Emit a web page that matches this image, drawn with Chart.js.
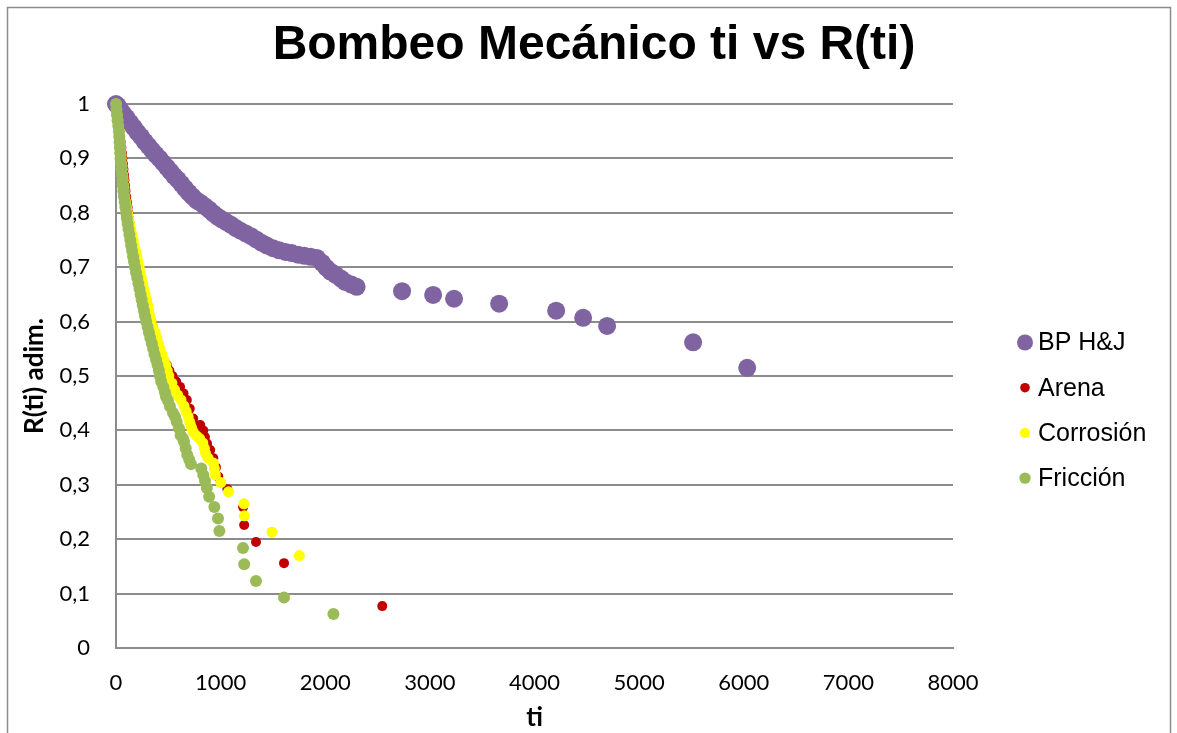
<!DOCTYPE html>
<html lang="es">
<head>
<meta charset="utf-8">
<title>Bombeo Mecánico ti vs R(ti)</title>
<script src="https://cdn.jsdelivr.net/npm/chart.js@4.4.1/dist/chart.umd.min.js"></script>
<style>
    html, body { margin: 0; padding: 0; background: #fff; }
    #chart { display: block; }
</style>
</head>
<body>
<canvas id="chart" width="1177" height="733"></canvas>
<script>
// Series: tiempo (ti) y confiabilidad R(ti)
const seriesNames = ['BP H&J', 'Arena', 'Corrosión', 'Fricción'];

const bpTi = [0, 15, 40, 70, 100, 135, 170, 205, 240, 275, 310, 345, 380, 415, 450, 485, 520, 555, 590, 625,
    660, 695, 730, 770, 810, 850, 890, 930, 970, 1010, 1055, 1100, 1145, 1190, 1240, 1290, 1340, 1390, 1440, 1500,
    1560, 1620, 1680, 1740, 1800, 1860, 1920, 1970, 2010, 2050, 2100, 2150, 2190, 2250, 2300,
    2734, 3031, 3231, 3662, 4207, 4465, 4694, 5516, 6033];
const bpR = [1, 0.997, 0.99, 0.982, 0.975, 0.966, 0.957, 0.948, 0.94, 0.931, 0.923, 0.915, 0.907, 0.9, 0.892, 0.884, 0.876, 0.868, 0.861, 0.853,
    0.845, 0.837, 0.83, 0.823, 0.818, 0.812, 0.806, 0.799, 0.793, 0.788, 0.783, 0.778, 0.772, 0.767, 0.762, 0.757, 0.751, 0.745, 0.74, 0.735,
    0.731, 0.728, 0.726, 0.723, 0.721, 0.719, 0.717, 0.708, 0.699, 0.692, 0.686, 0.679, 0.673, 0.668, 0.664,
    0.656, 0.649, 0.642, 0.633, 0.62, 0.607, 0.592, 0.562, 0.515];

const arenaTi = [0, 6, 12, 19, 26, 33, 39, 45, 51, 56, 61, 66, 71, 76, 81, 86, 91, 97, 104, 111,
    118, 125, 132, 140, 150, 160, 171, 182, 193, 204, 215, 226, 237, 248, 259, 270, 285, 298, 312, 325,
    338, 352, 366, 382, 398, 414, 432, 455, 485, 510, 540, 575, 612, 645, 677, 705, 738, 805, 834, 850,
    870, 900, 930, 955, 978, 1065, 1215, 1225, 1338, 1606, 2545];
const arenaR = [1, 0.99, 0.98, 0.97, 0.96, 0.95, 0.94, 0.93, 0.92, 0.91, 0.9, 0.89, 0.88, 0.87, 0.86, 0.85, 0.84, 0.83, 0.82, 0.81,
    0.8, 0.79, 0.78, 0.77, 0.76, 0.75, 0.74, 0.73, 0.72, 0.71, 0.7, 0.69, 0.68, 0.67, 0.66, 0.65, 0.64, 0.63, 0.62, 0.61,
    0.6, 0.59, 0.58, 0.57, 0.56, 0.55, 0.54, 0.53, 0.52, 0.51, 0.5, 0.49, 0.48, 0.468, 0.456, 0.44, 0.422, 0.41, 0.4, 0.388,
    0.376, 0.364, 0.349, 0.332, 0.315, 0.292, 0.259, 0.226, 0.195, 0.156, 0.077];

const corrTi = [0, 5, 10, 16, 23, 29, 33, 37, 41, 45, 49, 53, 58, 63, 68, 73, 78, 84, 92, 101,
    110, 120, 130, 141, 152, 163, 175, 187, 199, 210, 221, 232, 243, 254, 266, 278, 292, 303, 313, 324,
    335, 349, 374, 390, 405, 420, 438, 458, 475, 490, 505, 534, 560, 590, 621, 650, 670, 690, 705, 722,
    738, 770, 800, 830, 845, 855, 880, 932, 940, 950, 1002, 1075, 1223, 1227, 1491, 1752];
const corrR = [1, 0.99, 0.98, 0.97, 0.96, 0.95, 0.94, 0.93, 0.92, 0.91, 0.9, 0.89, 0.88, 0.87, 0.86, 0.85, 0.84, 0.83, 0.82, 0.81,
    0.8, 0.79, 0.78, 0.77, 0.76, 0.75, 0.74, 0.73, 0.72, 0.71, 0.7, 0.69, 0.68, 0.67, 0.66, 0.65, 0.64, 0.63, 0.62, 0.61,
    0.6, 0.59, 0.58, 0.57, 0.56, 0.55, 0.54, 0.529, 0.52, 0.51, 0.5, 0.487, 0.475, 0.465, 0.456, 0.445, 0.435, 0.425, 0.415, 0.405,
    0.397, 0.39, 0.385, 0.377, 0.367, 0.358, 0.349, 0.34, 0.33, 0.318, 0.304, 0.287, 0.265, 0.243, 0.213, 0.17];

const fricTi = [0, 4, 9, 15, 22, 28, 31, 34, 37, 40, 43, 47, 52, 57, 62, 66, 70, 76, 83, 90,
    97, 104, 111, 119, 128, 137, 145, 154, 163, 172, 182, 192, 203, 214, 225, 235, 245, 256, 267, 278,
    289, 302, 315, 328, 342, 355, 368, 383, 397, 410, 420, 432, 452, 468, 478, 496, 516, 545, 564, 580,
    602, 618, 640, 650, 666, 681, 700, 717, 815, 834, 851, 868, 890, 940, 975, 988, 1214, 1225, 1338, 1606, 2078];
const fricR = [1, 0.99, 0.98, 0.97, 0.96, 0.95, 0.94, 0.93, 0.92, 0.91, 0.9, 0.89, 0.88, 0.87, 0.86, 0.85, 0.84, 0.83, 0.82, 0.81,
    0.8, 0.79, 0.78, 0.77, 0.76, 0.75, 0.74, 0.73, 0.72, 0.71, 0.7, 0.69, 0.68, 0.67, 0.66, 0.65, 0.64, 0.63, 0.62, 0.61,
    0.6, 0.59, 0.58, 0.57, 0.56, 0.55, 0.54, 0.53, 0.52, 0.51, 0.5, 0.49, 0.48, 0.47, 0.462, 0.455, 0.444, 0.432, 0.425, 0.416,
    0.404, 0.391, 0.385, 0.379, 0.367, 0.355, 0.346, 0.338, 0.33, 0.318, 0.307, 0.294, 0.278, 0.259, 0.238, 0.215, 0.184, 0.154, 0.123, 0.093, 0.0625];

// Ejes
const xMin = 0, xMax = 8000, xStep = 1000;
const yMin = 0, yMax = 1, yStep = 0.1;

const toPoints = (xs, ys) => xs.map((x, i) => ({ x: x, y: ys[i] }));

const GRID = '#8c8c8c';
const colors = ['#8064A2', '#C00000', '#FFFF00', '#9BBB59'];
const radii = [9, 5, 5.5, 6];

// Leyenda dibujada a mano a la derecha del área de trazado
const sideLegend = {
    id: 'sideLegend',
    beforeDraw(chart) {
        const ctx = chart.ctx;
        ctx.save();
        ctx.fillStyle = '#fff';
        ctx.fillRect(0, 0, chart.width, chart.height);
        // marco del gráfico
        ctx.strokeStyle = '#8c8c8c';
        ctx.lineWidth = 1.5;
        ctx.strokeRect(7.5, 7.5, 1163, 760);
        ctx.restore();
    },
    afterDraw(chart, args, opts) {
        const ctx = chart.ctx;
        ctx.save();
        ctx.font = opts.font;
        ctx.textBaseline = 'middle';
        ctx.textAlign = 'left';
        chart.data.datasets.forEach((ds, i) => {
            const y = opts.y0 + i * opts.gap;
            ctx.beginPath();
            ctx.arc(opts.markerX, y, opts.markerR[i], 0, Math.PI * 2);
            ctx.fillStyle = ds.backgroundColor;
            ctx.fill();
            ctx.fillStyle = '#000';
            ctx.fillText(ds.label, opts.textX, y + 1);
        });
        ctx.restore();
    }
};

const ctx = document.getElementById('chart');
const chart = new Chart(ctx, {
    type: 'scatter',
    data: {
        datasets: [
            { label: seriesNames[0], data: toPoints(bpTi, bpR), order: 4 },
            { label: seriesNames[1], data: toPoints(arenaTi, arenaR), order: 3 },
            { label: seriesNames[2], data: toPoints(corrTi, corrR), order: 2 },
            { label: seriesNames[3], data: toPoints(fricTi, fricR), order: 1 }
        ].map((ds, i) => Object.assign(ds, {
            backgroundColor: colors[i],
            borderWidth: 0,
            pointRadius: radii[i],
            pointHoverRadius: radii[i],
            clip: false
        }))
    },
    options: {
        responsive: false,
        animation: false,
        events: [],
        layout: { padding: { left: 11, right: 0, top: 0, bottom: 0 } },
        plugins: {
            legend: { display: false },
            tooltip: { enabled: false },
            title: {
                display: true,
                text: 'Bombeo Mecánico ti vs R(ti)',
                color: '#000',
                font: { family: '"Liberation Sans", Arial, sans-serif', size: 48, weight: 'bold' },
                padding: { top: 17, bottom: 29.4 }
            },
            sideLegend: {
                font: '25px "Liberation Sans", Arial, sans-serif',
                markerX: 1025,
                markerR: [8, 4.8, 5, 5.7],
                textX: 1038,
                y0: 342.5,
                gap: 45.2
            }
        },
        scales: {
            x: {
                type: 'linear',
                min: xMin,
                max: xMax,
                afterFit(s) { s.height = 85; },
                grid: { display: false, drawTicks: false },
                border: { display: true, color: GRID, width: 2 },
                ticks: {
                    stepSize: xStep,
                    padding: 22,
                    maxRotation: 0,
                    color: '#000',
                    font: { family: 'Lato, "Open Sans", sans-serif', size: 22 },
                    callback: v => String(v)
                },
                title: {
                    display: true,
                    text: 'ti',
                    color: '#000',
                    font: { family: 'Lato, "Open Sans", sans-serif', size: 26, weight: 'bold' },
                    padding: { top: 0, bottom: 0 }
                }
            },
            y: {
                type: 'linear',
                position: 'left',
                min: yMin,
                max: yMax,
                afterFit(s) { s.width = 105; },
                grid: { color: GRID, lineWidth: 2, drawTicks: false },
                border: { display: true, color: GRID, width: 2 },
                ticks: {
                    stepSize: yStep,
                    padding: 26,
                    color: '#000',
                    font: { family: 'Lato, "Open Sans", sans-serif', size: 22 },
                    callback: v => {
                        const r = Math.round(v * 10) / 10;
                        return String(r).replace('.', ',');
                    }
                },
                title: {
                    display: true,
                    text: 'R(ti) adim.',
                    color: '#000',
                    font: { family: 'Lato, "Open Sans", sans-serif', size: 26, weight: 'bold' },
                    padding: { top: 8, bottom: 0 }
                }
            },
            // espacio reservado para la leyenda
            yLegend: {
                type: 'linear',
                position: 'right',
                display: true,
                afterFit(s) { s.width = 224; },
                grid: { display: false, drawTicks: false },
                border: { display: false },
                ticks: { display: false }
            }
        }
    },
    plugins: [sideLegend]
});
window.chart = chart;
</script>
</body>
</html>
